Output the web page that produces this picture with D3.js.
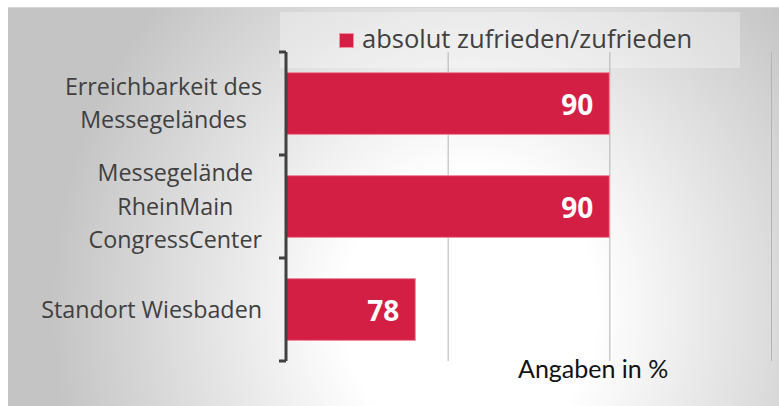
<!DOCTYPE html>
<html>
<head>
<meta charset="utf-8">
<script src="https://cdn.jsdelivr.net/npm/d3@7"></script>
<style>
  html, body { margin: 0; padding: 0; background: #ffffff; }
  svg { display: block; }
</style>
</head>
<body>
<svg id="chart" width="779" height="406"></svg>
<script>
// ---- data ----
const categories = ["Erreichbarkeit des Messegeländes", "Messegelände RheinMain CongressCenter", "Standort Wiesbaden"];
const categoryLines = [["Erreichbarkeit des", "Messegeländes"], ["Messegelände", "RheinMain", "CongressCenter"], ["Standort Wiesbaden"]];
const values = [90, 90, 78];
const seriesName = "absolut zufrieden/zufrieden";
const gridTicks = [80, 90, 100];
const xDomain = [70, 100];
const axisNote = "Angaben in %";

// ---- layout ----
const W = 779, H = 406;
const plot = { left: 286, right: 771, top: 52, bottom: 361 };
const barColor = "#d31f43";
const textColor = "#404040";

const svg = d3.select("#chart");
const defs = svg.append("defs");
const grad = defs.append("radialGradient")
  .attr("id", "bg")
  .attr("gradientUnits", "userSpaceOnUse")
  .attr("cx", 0).attr("cy", 0).attr("r", 1)
  .attr("gradientTransform", "translate(470,310) scale(420,460)");
grad.append("stop").attr("offset", 0).attr("stop-color", "#ffffff");
grad.append("stop").attr("offset", 0.3).attr("stop-color", "#ffffff");
grad.append("stop").attr("offset", 1).attr("stop-color", "#c4c4c4");

// background panel
svg.append("rect").attr("x", 0).attr("y", 0).attr("width", W).attr("height", H).attr("fill", "#ffffff");
svg.append("rect").attr("x", 8).attr("y", 8).attr("width", W - 8).attr("height", H - 8).attr("fill", "url(#bg)");
svg.append("line").attr("x1", 8).attr("x2", W).attr("y1", 7.5).attr("y2", 7.5).attr("stroke", "#d4d4d4").attr("stroke-width", 1);

// legend box
svg.append("rect").attr("x", 280).attr("y", 12).attr("width", 460).attr("height", 56)
  .attr("fill", "#ffffff").attr("fill-opacity", 0.3);

// scales
const x = d3.scaleLinear().domain(xDomain).range([plot.left, plot.right]);
const y = d3.scaleBand().domain(categories).range([plot.top, plot.bottom])
  .paddingInner(0.4).paddingOuter(0.2);

// gridlines
const grid = svg.append("g")
  .attr("transform", `translate(0,${plot.bottom})`)
  .call(d3.axisBottom(x).tickValues(gridTicks).tickSize(-(plot.bottom - plot.top)).tickFormat(""));
grid.select(".domain").remove();
grid.selectAll(".tick line").attr("stroke", "#b4b4b4").attr("stroke-width", 1);

// bars
svg.append("g").selectAll("rect")
  .data(categories)
  .join("rect")
  .attr("x", x(xDomain[0]))
  .attr("y", d => y(d))
  .attr("width", (d, i) => x(values[i]) - x(xDomain[0]))
  .attr("height", y.bandwidth())
  .attr("fill", barColor)
  .attr("stroke", "#ee8c9f")
  .attr("stroke-width", 1);

// value labels
svg.append("g").selectAll("text")
  .data(categories)
  .join("text")
  .attr("x", (d, i) => x(values[i]) - 16)
  .attr("y", d => y(d) + y.bandwidth() / 2 + 11)
  .attr("text-anchor", "end")
  .attr("font-family", "'Open Sans', sans-serif")
  .attr("font-weight", 700)
  .attr("font-size", 28)
  .attr("fill", "#ffffff")
  .text((d, i) => values[i]);

// category axis (line + boundary ticks)
const step = y.step();
const bounds = categories.map(c => y(c) - y.paddingInner() * step / 2);
bounds[0] = plot.top;
bounds.push(plot.bottom);
const ax = svg.append("g");
ax.append("line").attr("x1", plot.left).attr("x2", plot.left)
  .attr("y1", plot.top).attr("y2", plot.bottom)
  .attr("stroke", "#404040").attr("stroke-width", 3);
ax.selectAll("line.t").data(bounds).join("line").attr("class", "t")
  .attr("x1", plot.left - 7).attr("x2", plot.left)
  .attr("y1", d => d).attr("y2", d => d)
  .attr("stroke", "#404040").attr("stroke-width", 3);

// category labels
const labelRight = 262;
const lineH = 33.5;
const lab = svg.append("g");
categories.forEach((c, i) => {
  const lines = categoryLines[i];
  const g = lab.append("g");
  const ts = lines.map((l, j) => g.append("text")
    .attr("font-family", "'Open Sans', sans-serif")
    .attr("font-size", 23.3)
    .attr("fill", textColor)
    .attr("text-anchor", "middle")
    .attr("y", y(c) + y.bandwidth() / 2 + 8 + (j - (lines.length - 1) / 2) * lineH)
    .text(l));
  const maxW = d3.max(ts, t => t.node().getComputedTextLength());
  ts.forEach(t => t.attr("x", labelRight - maxW / 2));
});

// legend
svg.append("rect").attr("x", 339.5).attr("y", 33.5).attr("width", 14).attr("height", 14)
  .attr("fill", barColor).attr("stroke", "#f08fa2").attr("stroke-width", 1);
svg.append("text").attr("x", 362).attr("y", 48)
  .attr("font-family", "'Open Sans', sans-serif")
  .attr("font-size", 25.5)
  .attr("fill", textColor)
  .text(seriesName);

// axis note
svg.append("text").attr("x", 518).attr("y", 378)
  .attr("font-family", "Lato, sans-serif")
  .attr("font-size", 25)
  .attr("fill", "#111111")
  .text(axisNote);
</script>
</body>
</html>
